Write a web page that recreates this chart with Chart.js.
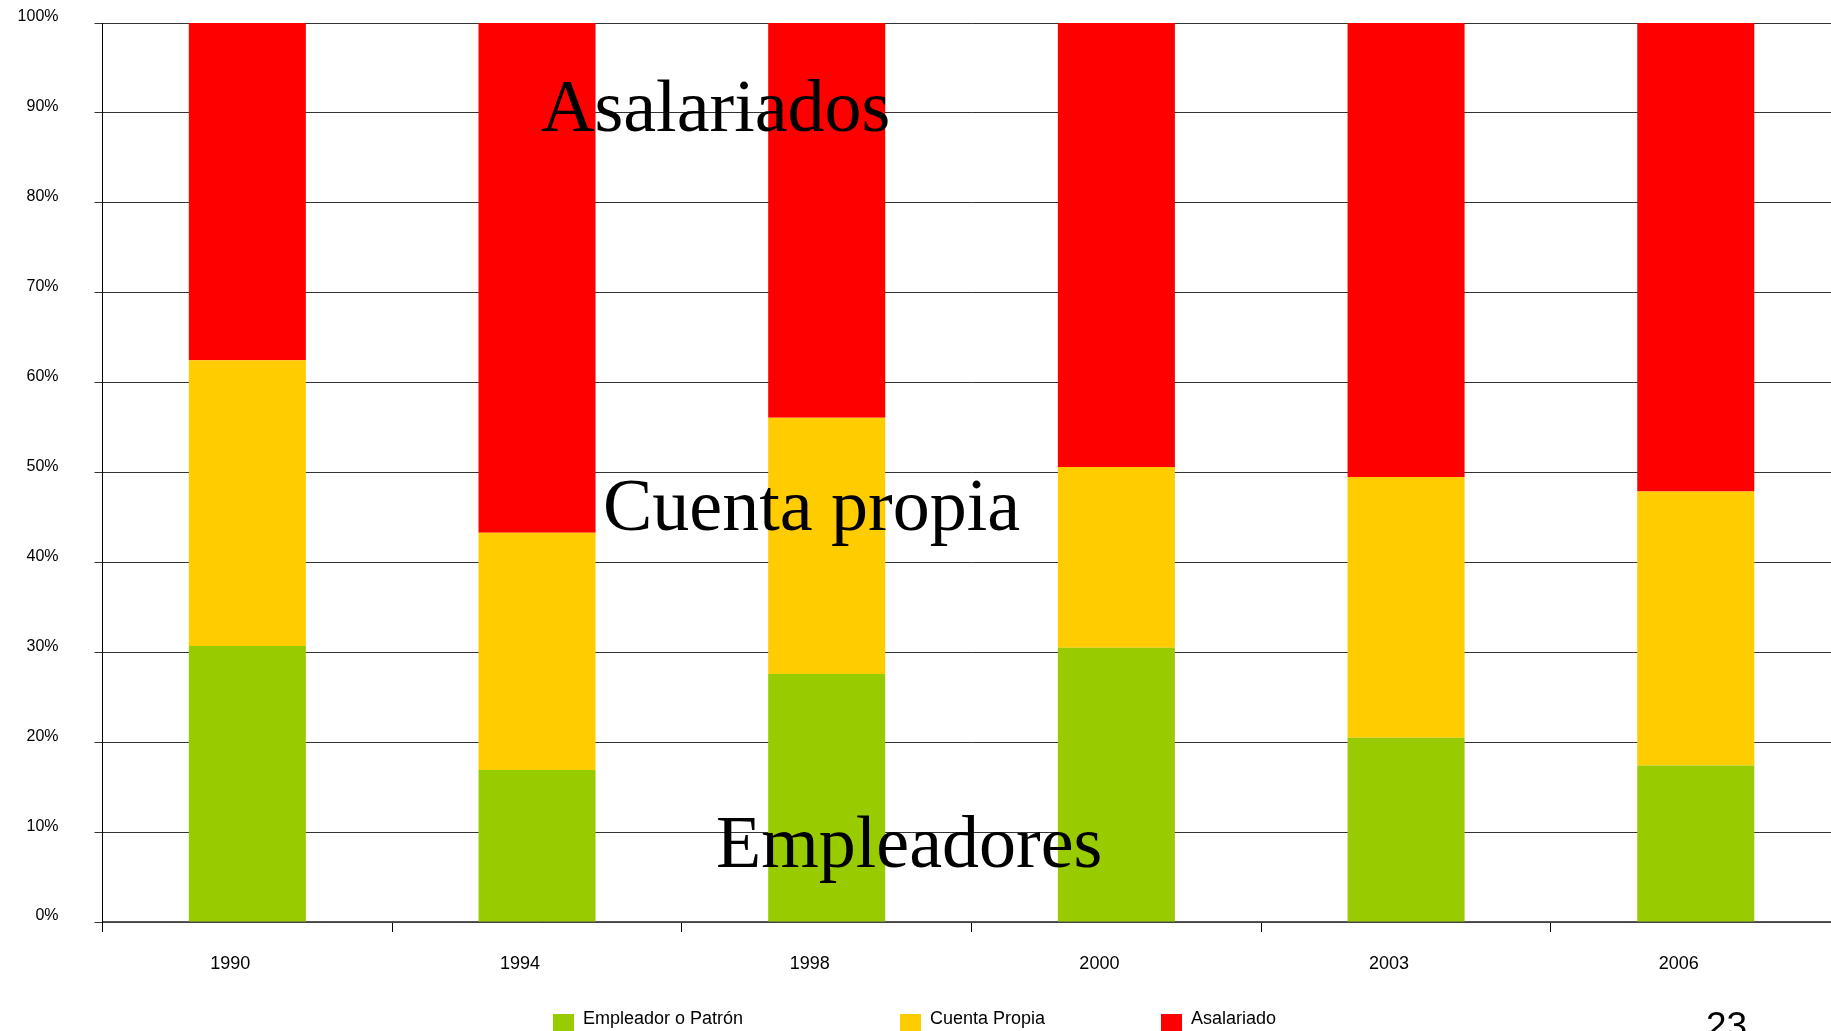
<!DOCTYPE html>
<html>
<head>
<meta charset="utf-8">
<script src="https://cdn.jsdelivr.net/npm/chart.js@4/dist/chart.umd.min.js"></script>
<style>
  html, body { margin: 0; padding: 0; background: #fff; overflow: hidden; }
  #wrap { width: 1860px; height: 1031px; }
</style>
</head>
<body>
<div id="wrap"><canvas id="chart" width="1860" height="1031"></canvas></div>
<script>
// años
const years = ['1990', '1994', '1998', '2000', '2003', '2006'];
// porcentajes por categoría
const empleador = [30.7, 16.9, 27.6, 30.5, 20.5, 17.4];
const cuentaPropia = [31.8, 26.4, 28.5, 20.1, 29.0, 30.5];
const asalariado = [37.5, 56.7, 43.9, 49.4, 50.5, 52.1];
const seriesNames = ['Empleador o Patrón', 'Cuenta Propia', 'Asalariado'];
const seriesColors = ['#99CC00', '#FFCC00', '#FF0000'];
const yTicks = [0, 10, 20, 30, 40, 50, 60, 70, 80, 90, 100];

// leyenda dibujada a mano (espaciado irregular como el original)
const legendPlugin = {
    id: 'manualLegend',
    afterDraw(chart) {
        const ctx = chart.ctx;
        const xs = [553, 900, 1161];
        ctx.save();
        ctx.font = '18px "Liberation Sans", Arial, sans-serif';
        ctx.textBaseline = 'alphabetic';
        chart.data.datasets.forEach((ds, i) => {
            ctx.fillStyle = ds.backgroundColor;
            ctx.fillRect(xs[i], 1014, 21, 21);
            ctx.fillStyle = '#000';
            ctx.fillText(ds.label, xs[i] + 30, 1024);
        });
        // número de diapositiva
        ctx.font = '37px "Liberation Sans", Arial, sans-serif';
        ctx.fillText('23', 1706, 1038);
        ctx.restore();
    }
};

// textos grandes sobre el gráfico
const overlayPlugin = {
    id: 'overlayText',
    afterDraw(chart) {
        const ctx = chart.ctx;
        ctx.save();
        ctx.font = '74px "Liberation Serif", "Times New Roman", serif';
        ctx.fillStyle = '#000';
        ctx.textBaseline = 'alphabetic';
        ctx.fillText('Asalariados', 541, 131);
        ctx.fillText('Cuenta propia', 603, 530);
        ctx.fillText('Empleadores', 716, 867);
        ctx.restore();
    }
};

const data = [empleador, cuentaPropia, asalariado];

new Chart(document.getElementById('chart'), {
    type: 'bar',
    data: {
        labels: years,
        datasets: data.map((d, i) => ({
            label: seriesNames[i],
            data: d,
            backgroundColor: seriesColors[i],
            borderWidth: 0,
            barPercentage: 0.404,
            categoryPercentage: 1
        }))
    },
    options: {
        responsive: false,
        devicePixelRatio: 1,
        animation: false,
        layout: { padding: { top: 23, left: 0, right: 19.4, bottom: 0 } },
        plugins: { legend: { display: false }, tooltip: { enabled: false } },
        scales: {
            x: {
                stacked: true,
                afterFit: s => { s.height = 109; },
                grid: { offset: true, drawOnChartArea: false, tickLength: 10, color: '#000', lineWidth: 1 },
                border: { color: '#555', width: 1.5 },
                ticks: {
                    font: { family: '"Liberation Sans", Arial, sans-serif', size: 18 },
                    color: '#000',
                    padding: 21,
                    labelOffset: -17,
                    maxRotation: 0
                }
            },
            y: {
                stacked: true,
                min: 0,
                max: 100,
                afterFit: s => { s.width = 102.5; s.paddingTop = 0; s.paddingBottom = 0; },
                afterBuildTicks: s => { s.ticks = yTicks.map(v => ({ value: v })); },
                grid: { color: '#333', lineWidth: 1, tickLength: 8 },
                border: { color: '#000', width: 1 },
                ticks: {
                    font: { family: '"Liberation Sans", Arial, sans-serif', size: 16 },
                    color: '#000',
                    padding: 36,
                    labelOffset: -6,
                    callback: v => v + '%'
                }
            }
        }
    },
    plugins: [overlayPlugin, legendPlugin]
});
</script>
</body>
</html>
